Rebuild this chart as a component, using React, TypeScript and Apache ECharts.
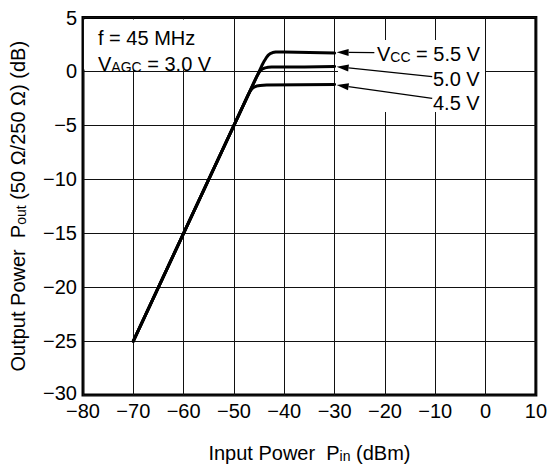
import React, { useEffect, useRef } from "react";
import * as echarts from "echarts";

const xTicks = { min: -80, max: 10, interval: 10 };
const yTicks = { min: -30, max: 5, interval: 5 };

const vcc55: number[][] = [
  [-70, -25], [-45.5, -0.5], [-44.5, 0.5], [-44, 0.95], [-43.6, 1.25], [-43.2, 1.5],
  [-42.8, 1.65], [-42.3, 1.75], [-41.7, 1.8], [-40, 1.8], [-35, 1.75], [-30, 1.7],
];
const vcc50: number[][] = [
  [-70, -25], [-46, -1], [-45.4, -0.42], [-45, -0.1], [-44.7, 0.1], [-44.3, 0.24],
  [-43.8, 0.33], [-43.2, 0.38], [-42.5, 0.4], [-36, 0.42], [-30, 0.45],
];
const vcc45: number[][] = [
  [-70, -25], [-47.2, -2.2], [-46.8, -1.85], [-46.4, -1.6], [-46, -1.45], [-45.5, -1.36],
  [-44.8, -1.3], [-43.5, -1.26], [-30, -1.22],
];

// arrows: from label to curve end (data coords)
const arrowFrom: number[][] = [[-22.1, 1.75], [-10.6, -0.49], [-10.6, -2.49]];
const arrowTo: number[][] = [[-29.6, 1.77], [-29.6, 0.44], [-29.6, -1.26]];

const FONT = "'Liberation Sans', Arial, Helvetica, sans-serif";
const minus = (v: number) => String(v).replace("-", "\u2212");

export default function App() {
  const ref = useRef<HTMLDivElement>(null);
  useEffect(() => {
    if (!ref.current) return;
    const chart = echarts.init(ref.current, null, { renderer: "svg" });
    const lineSeries = (name: string, data: number[][]) => ({
      name,
      type: "line",
      data,
      showSymbol: false,
      symbol: "none",
      smooth: false,
      lineStyle: { color: "#000", width: 3, join: "round", cap: "round" },
      z: 3,
    });
    const rich = {
      a: { fontSize: 20, fontFamily: FONT, color: "#000", verticalAlign: "bottom", lineHeight: 22 },
      s: { fontSize: 14, fontFamily: FONT, color: "#000", verticalAlign: "bottom", lineHeight: 20 },
    };
    chart.setOption({
      animation: false,
      backgroundColor: "#fff",
      grid: {
        left: 82, right: 13, top: 17.5, bottom: 73,
        show: true, borderColor: "#000", borderWidth: 3, backgroundColor: "transparent",
      },
      xAxis: {
        type: "value", min: xTicks.min, max: xTicks.max, interval: xTicks.interval,
        axisLine: { show: false }, axisTick: { show: false },
        splitLine: { show: true, lineStyle: { color: "#111", width: 1 } },
        axisLabel: { formatter: minus, color: "#000", fontSize: 20, fontFamily: FONT, margin: 9, lineHeight: 14 },
        name: "{a|Input Power  P}{s|in}{a| (dBm)}",
        nameLocation: "middle",
        nameGap: 46,
        nameTextStyle: { rich },
      },
      yAxis: {
        type: "value", min: yTicks.min, max: yTicks.max, interval: yTicks.interval,
        axisLine: { show: false }, axisTick: { show: false },
        splitLine: { show: true, lineStyle: { color: "#111", width: 1 } },
        axisLabel: {
          formatter: (v: number) => (v === yTicks.min ? `{m|${minus(v)}}` : minus(v)),
          color: "#000", fontSize: 20, fontFamily: FONT, margin: 6, lineHeight: 14,
          rich: { m: { fontSize: 20, fontFamily: FONT, color: "#000", lineHeight: 14, padding: [0, 0, 5, 0] } },
        },
        name: "{a|Output Power  P}{s|out}{a| (50 \u03A9/250 \u03A9) (dB)}",
        nameLocation: "middle",
        nameGap: 55,
        nameTextStyle: { rich },
      },
      series: [lineSeries("5.5 V", vcc55), lineSeries("5.0 V", vcc50), lineSeries("4.5 V", vcc45)],
    });

    const graphics: any[] = [];
    graphics.push({ type: "rect", shape: { x: 84, y: 19.5, width: 140, height: 50 }, style: { fill: "#fff" }, z: 1 });
    graphics.push({ type: "rect", shape: { x: 338, y: 40, width: 147, height: 72 }, style: { fill: "#fff" }, z: 1 });
    const txt = (x: number, y: number, text: string) => ({
      type: "text", x, y, z: 5,
      style: { text, rich, fill: "#000", font: `20px ${FONT}`, verticalAlign: "middle", align: "left" },
    });
    graphics.push(txt(98, 37, "{a|f = 45 MHz}"));
    graphics.push(txt(98, 63, "{a|V}{s|AGC}{a| = 3.0 V}"));
    graphics.push(txt(377, 53, "{a|V}{s|CC}{a| = 5.5 V}"));
    graphics.push(txt(433, 78, "{a|5.0 V}"));
    graphics.push(txt(433, 102, "{a|4.5 V}"));
    arrowFrom.forEach((f, i) => {
      const p0 = chart.convertToPixel({ gridIndex: 0 }, f) as number[];
      const p1 = chart.convertToPixel({ gridIndex: 0 }, arrowTo[i]) as number[];
      const dx = p1[0] - p0[0], dy = p1[1] - p0[1];
      const len = Math.hypot(dx, dy);
      const ux = dx / len, uy = dy / len;
      const hl = 12, hw = 3.5;
      const bx = p1[0] - ux * hl, by = p1[1] - uy * hl;
      graphics.push({
        type: "line", z: 4,
        shape: { x1: p0[0], y1: p0[1], x2: bx, y2: by },
        style: { stroke: "#000", lineWidth: 1.2 },
      });
      graphics.push({
        type: "polygon", z: 4,
        shape: { points: [[p1[0], p1[1]], [bx - uy * hw, by + ux * hw], [bx + uy * hw, by - ux * hw]] },
        style: { fill: "#000" },
      });
    });
    chart.setOption({ graphic: graphics });
    return () => chart.dispose();
  }, []);
  return (
    <div
      ref={ref}
      style={{ position: "fixed", left: 0, top: 0, width: 550, height: 468, background: "#fff" }}
    />
  );
}
